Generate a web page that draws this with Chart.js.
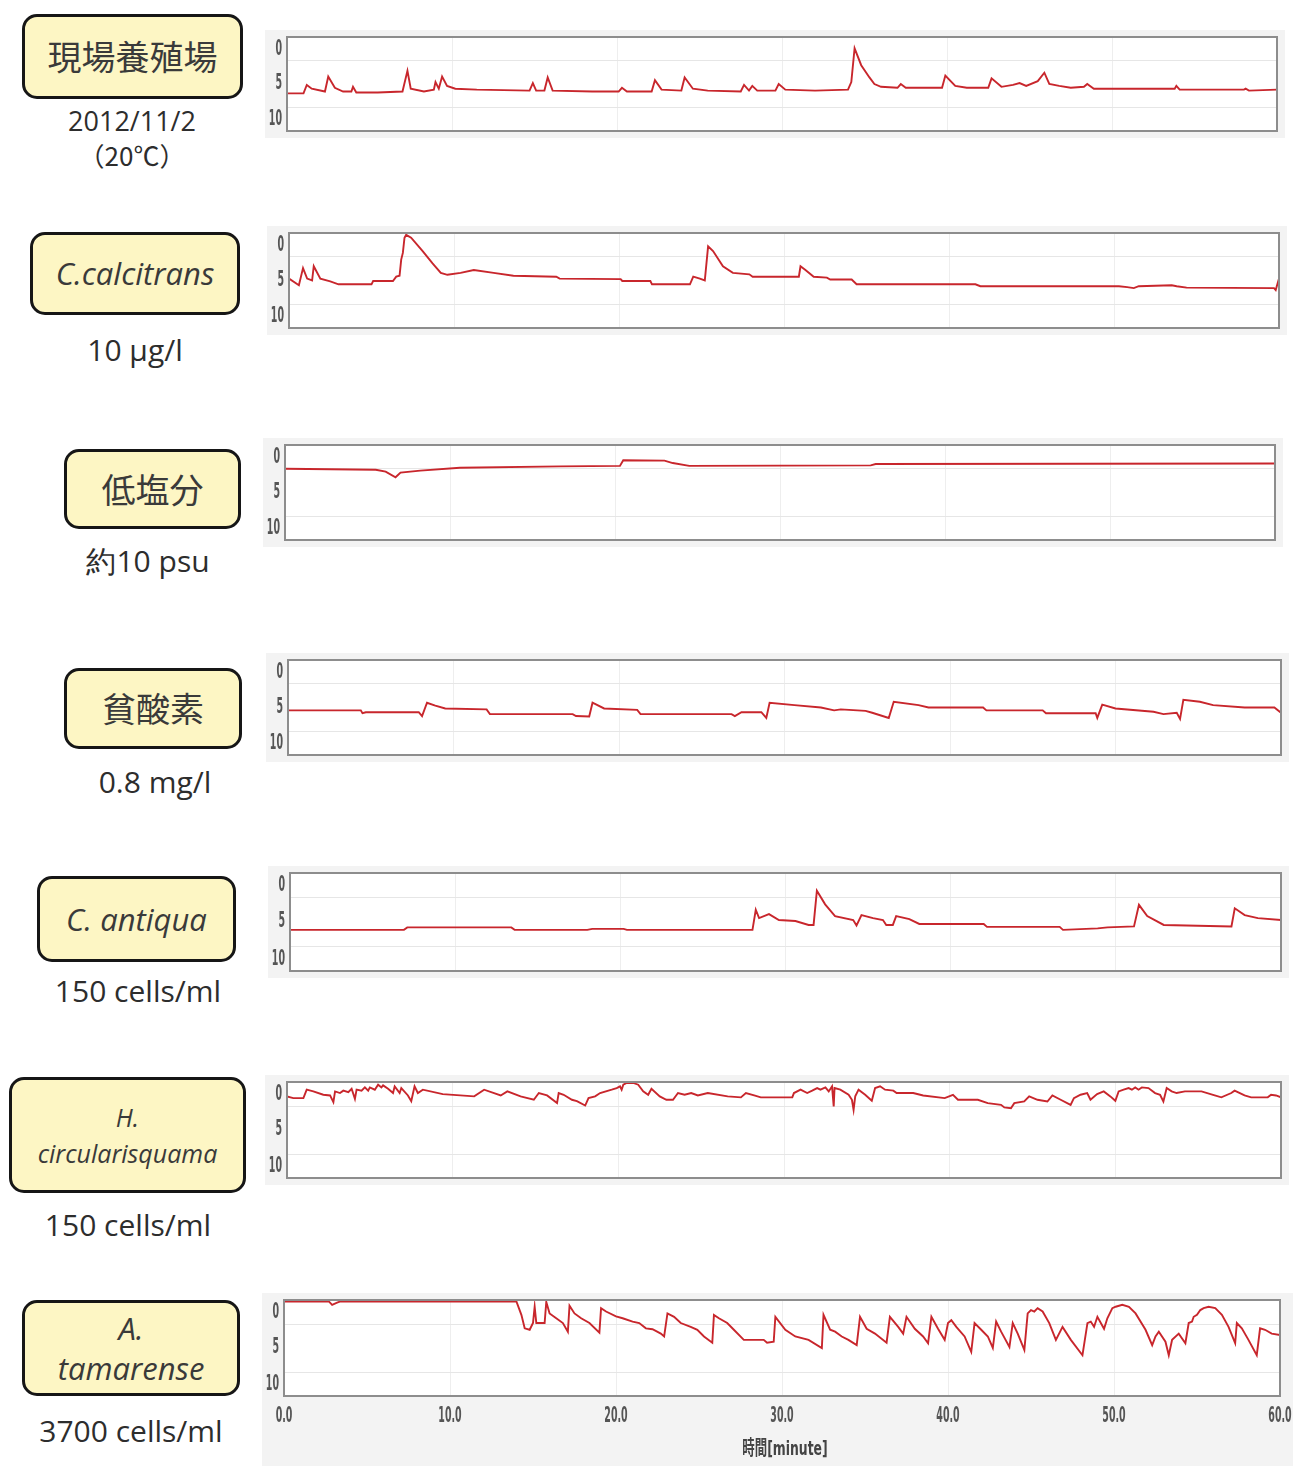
<!DOCTYPE html>
<html><head><meta charset="utf-8">
<script src="https://cdn.jsdelivr.net/npm/chart.js@4.4.1/dist/chart.umd.min.js"></script>
<style>
body{margin:0;background:#fff;width:1293px;height:1466px;position:relative;overflow:hidden;font-family:"Open Sans",sans-serif;}
.box{position:absolute;background:#fdf6c4;border:3px solid #161616;border-radius:15px;box-sizing:border-box;display:flex;align-items:center;justify-content:center;text-align:center;color:#3a3a3a;line-height:1.25;}
.jp{font-family:"Noto Sans CJK JP",sans-serif;font-size:34px;}
.it{font-style:italic;font-size:31px;}
.sub{position:absolute;text-align:center;color:#2d2d2d;font-size:30px;line-height:34px;width:240px;}
canvas{position:absolute;}
</style></head><body>
<div class="box jp" style="left:22px;top:14px;width:221px;height:85px;">現場養殖場</div>
<div class="sub" style="left:12px;top:104px;font-size:27px;">2012/11/2<br><span style="font-family:'Noto Sans CJK JP',sans-serif;font-size:26px;">（20℃）</span></div>
<div class="box it" style="left:30px;top:232px;width:210px;height:83px;">C.calcitrans</div>
<div class="sub" style="left:15px;top:333px;">10 μg/l</div>
<div class="box jp" style="left:64px;top:449px;width:177px;height:80px;">低塩分</div>
<div class="sub" style="left:28px;top:544px;">約10 psu</div>
<div class="box jp" style="left:64px;top:668px;width:178px;height:81px;">貧酸素</div>
<div class="sub" style="left:35px;top:765px;">0.8 mg/l</div>
<div class="box it" style="left:37px;top:876px;width:199px;height:86px;">C. antiqua</div>
<div class="sub" style="left:18px;top:974px;">150 cells/ml</div>
<div class="box it" style="left:9px;top:1077px;width:237px;height:116px;font-size:25px;line-height:1.45;">H.<br>circularisquama</div>
<div class="sub" style="left:8px;top:1208px;">150 cells/ml</div>
<div class="box it" style="left:22px;top:1300px;width:218px;height:96px;line-height:1.3;">A.<br>tamarense</div>
<div class="sub" style="left:11px;top:1414px;">3700 cells/ml</div>
<script>
// ---- data: [minute, value] ----
const fieldFarm = [[0,6.0],[1.0,6.0],[1.2,5.1],[1.5,5.5],[2.3,5.8],[2.5,4.2],[2.9,5.4],[3.4,5.8],[3.9,5.8],[4.0,5.3],[4.2,5.9],[5.5,5.9],[7.0,5.8],[7.3,3.6],[7.5,5.5],[8.3,5.8],[8.9,5.6],[9.0,4.8],[9.2,5.5],[9.4,4.2],[9.7,5.2],[10.2,5.5],[11.5,5.6],[14.7,5.7],[14.9,4.9],[15.1,5.7],[15.6,5.7],[15.8,4.3],[16.1,5.7],[18.5,5.8],[20.1,5.8],[20.3,5.4],[20.6,5.8],[22.1,5.8],[22.3,4.6],[22.7,5.6],[23.9,5.7],[24.1,4.3],[24.6,5.5],[25.5,5.7],[27.5,5.8],[27.7,5.1],[28.0,5.7],[28.2,5.2],[28.5,5.7],[29.6,5.7],[29.8,5.0],[30.2,5.6],[32.0,5.7],[34.0,5.6],[34.2,4.8],[34.4,1.2],[34.8,3.0],[35.3,4.3],[35.6,5.0],[36.0,5.3],[37.0,5.4],[37.2,5.0],[37.5,5.4],[39.7,5.4],[39.9,4.1],[40.5,5.2],[41.2,5.4],[42.5,5.4],[42.7,4.4],[43.3,5.3],[44.0,5.1],[44.4,4.9],[44.8,5.2],[45.5,4.7],[45.9,3.8],[46.2,5.0],[46.8,5.2],[47.5,5.4],[48.3,5.3],[48.5,5.0],[48.9,5.5],[53.8,5.5],[53.9,5.2],[54.1,5.6],[58.0,5.6],[58.1,5.5],[58.3,5.7],[60,5.6]];
const calcitrans = [[0,4.8],[0.6,5.5],[0.85,3.7],[1.1,4.8],[1.4,5.0],[1.5,3.5],[1.9,4.8],[2.5,5.1],[3.0,5.4],[5.0,5.4],[5.1,5.05],[6.3,5.05],[6.5,4.6],[6.7,4.5],[6.8,2.8],[6.9,2.1],[7.0,0.5],[7.1,0.2],[7.4,0.5],[8.1,1.9],[8.7,3.2],[9.2,4.2],[9.6,4.4],[10.4,4.2],[11.2,3.9],[12.4,4.2],[13.6,4.5],[16.2,4.6],[16.4,4.8],[20.1,4.85],[20.2,5.05],[21.9,5.05],[22.0,5.4],[24.3,5.4],[24.5,4.6],[24.9,4.8],[25.2,5.0],[25.4,1.4],[25.7,1.9],[26.3,3.5],[26.9,4.2],[27.9,4.35],[28.1,4.6],[30.9,4.6],[31.0,3.5],[31.3,3.9],[31.8,4.6],[32.6,4.7],[32.8,4.9],[34.1,4.9],[34.4,5.4],[41.6,5.4],[41.9,5.6],[50.3,5.6],[50.8,5.7],[51.2,5.8],[51.5,5.6],[53.5,5.5],[53.8,5.6],[54.4,5.75],[59.7,5.8],[59.8,6.0],[60,4.8]];
const lowSalinity = [[0,2.5],[5.5,2.6],[6.1,2.8],[6.7,3.4],[7.0,2.9],[8.2,2.7],[10.6,2.4],[16.7,2.25],[20.3,2.2],[20.5,1.6],[23.0,1.65],[23.5,1.9],[24.5,2.2],[35.5,2.15],[35.8,2.0],[60,1.95]];
const hypoxia = [[0,5.3],[4.4,5.3],[4.5,5.6],[4.7,5.5],[7.9,5.5],[8.1,5.9],[8.4,4.5],[8.9,4.8],[9.5,5.1],[12.0,5.2],[12.2,5.7],[17.2,5.7],[17.4,5.9],[18.2,5.95],[18.4,4.5],[19.1,5.1],[21.1,5.25],[21.3,5.7],[26.8,5.7],[27.0,5.9],[27.4,5.5],[28.6,5.5],[28.9,6.1],[29.1,4.5],[30.6,4.75],[32.2,5.0],[33.0,5.3],[33.4,5.2],[34.9,5.35],[35.3,5.55],[36.3,6.1],[36.6,4.4],[38.1,4.75],[38.7,5.0],[42.0,5.0],[42.2,5.3],[45.6,5.3],[45.8,5.6],[48.8,5.6],[48.9,6.1],[49.2,4.7],[50.0,5.1],[52.3,5.45],[52.9,5.7],[53.7,5.55],[53.9,6.2],[54.1,4.2],[55.1,4.4],[55.9,4.75],[57.8,5.0],[59.6,5.0],[60,5.55]];
const antiqua = [[0,5.8],[6.9,5.8],[7.1,5.55],[13.4,5.55],[13.6,5.8],[18.0,5.8],[18.3,5.7],[20.2,5.7],[20.4,5.8],[28.0,5.8],[28.2,3.75],[28.4,4.6],[29.0,4.2],[29.6,4.8],[30.6,4.9],[31.4,5.3],[31.7,5.3],[31.9,1.8],[32.4,3.2],[33.0,4.4],[34.1,4.8],[34.3,5.35],[34.6,4.3],[35.3,4.6],[35.9,4.8],[36.1,5.3],[36.5,5.3],[36.7,4.4],[37.5,4.7],[38.1,5.2],[42.0,5.2],[42.2,5.5],[46.6,5.5],[46.8,5.8],[48.9,5.65],[49.5,5.55],[51.1,5.45],[51.4,3.25],[51.9,4.4],[52.9,5.3],[57.0,5.45],[57.2,3.6],[57.8,4.3],[58.6,4.6],[60,4.8]];
const circularisquama = [[0,1.5],[0.38,1.68],[0.99,1.68],[1.19,0.8],[1.59,0.98],[2.19,1.33],[2.6,1.4],[2.8,2.1],[2.9,0.98],[3.2,1.15],[3.4,0.9],[3.7,1.05],[3.9,0.7],[4.1,1.75],[4.2,0.8],[4.5,0.9],[4.7,0.56],[4.9,0.9],[5.0,0.56],[5.3,0.8],[5.5,0.28],[5.7,0.56],[5.8,0.35],[6.1,0.7],[6.4,1.15],[6.5,0.45],[6.8,1.15],[6.9,0.63],[7.3,1.4],[7.5,2.0],[7.7,0.45],[7.9,1.15],[8.2,0.8],[9.4,1.26],[11.3,1.5],[11.9,0.8],[12.9,1.4],[13.3,0.98],[14.1,1.5],[14.9,1.85],[15.2,1.15],[15.7,1.4],[16.3,2.2],[16.4,1.15],[16.7,1.33],[17.2,1.85],[17.5,2.0],[18.0,2.45],[18.2,1.68],[18.6,1.5],[18.9,1.15],[19.6,0.8],[19.9,0.63],[20.1,0.45],[20.2,0.8],[20.3,0.28],[20.5,0.1],[20.9,0.1],[21.2,0.28],[21.5,0.98],[21.8,1.33],[22.0,0.7],[22.5,1.5],[22.9,1.85],[23.3,1.85],[23.6,1.15],[24.0,1.33],[24.4,1.15],[24.8,1.4],[25.4,1.15],[26.6,1.5],[27.4,1.6],[27.7,1.15],[28.2,1.4],[28.6,1.6],[29.2,1.6],[30.5,1.6],[30.6,1.15],[31.0,0.8],[31.4,1.15],[31.7,0.9],[32.0,0.63],[32.2,0.8],[32.5,0.56],[32.7,0.98],[32.9,0.45],[33.0,2.55],[33.05,0.63],[33.4,0.8],[33.9,1.33],[34.1,1.85],[34.2,2.9],[34.3,1.5],[34.5,0.8],[34.9,1.33],[35.3,1.96],[35.5,0.63],[35.8,0.45],[36.1,0.8],[36.6,0.9],[36.8,1.15],[37.8,1.15],[38.4,1.4],[39.7,1.68],[40.2,1.33],[40.5,1.85],[41.7,1.85],[42.3,2.2],[43.1,2.38],[43.3,2.65],[43.7,2.73],[43.9,2.2],[44.5,2.03],[44.8,1.5],[45.3,1.85],[45.9,2.03],[46.2,1.4],[46.7,1.85],[47.3,2.38],[47.5,1.68],[47.9,1.33],[48.3,1.15],[48.5,1.85],[48.9,1.26],[49.3,0.98],[49.7,1.5],[50.0,1.96],[50.2,0.98],[50.5,0.8],[50.8,0.63],[51.0,0.8],[51.2,0.56],[51.4,0.8],[51.6,0.56],[52.0,0.63],[52.4,1.15],[52.7,1.33],[52.9,2.03],[53.1,0.63],[53.4,0.98],[53.7,1.15],[54.2,0.98],[55.2,0.98],[56.0,1.4],[56.4,1.6],[57.0,1.15],[57.2,0.9],[57.8,1.4],[58.2,1.6],[59.2,1.6],[59.4,1.33],[59.7,1.4],[60,1.6]];
const tamarense = [[0,0.15],[2.2,0.15],[2.7,0.15],[2.9,0.5],[3.2,0.28],[3.4,0.15],[14.0,0.15],[14.3,1.55],[14.5,2.95],[14.8,3.1],[15.0,2.4],[15.1,0.7],[15.2,2.4],[15.7,2.4],[15.8,0.2],[16.0,1.4],[16.4,1.9],[16.8,2.4],[17.1,3.3],[17.2,0.6],[17.5,1.4],[17.9,1.9],[18.4,2.4],[19.0,3.4],[19.1,0.85],[19.4,1.2],[20.0,1.7],[20.4,1.9],[21.0,2.25],[21.4,2.4],[21.8,2.95],[22.2,3.05],[22.7,3.5],[22.9,3.8],[23.1,1.4],[23.5,1.75],[23.9,2.4],[24.5,2.8],[24.9,3.1],[25.3,3.8],[25.8,4.45],[25.9,1.55],[26.2,1.9],[26.7,2.4],[27.1,3.1],[27.7,4.15],[28.9,4.15],[29.1,4.45],[29.5,4.35],[29.6,1.75],[30.2,3.1],[30.8,3.8],[31.6,4.15],[32.4,5.0],[32.5,1.55],[32.9,3.1],[33.2,3.3],[33.6,3.8],[34.0,4.15],[34.5,4.7],[34.7,1.75],[35.1,3.0],[35.6,3.5],[36.3,4.45],[36.5,1.75],[37.0,2.8],[37.3,3.5],[37.5,1.75],[38.0,3.0],[38.5,3.8],[38.8,4.5],[39.0,1.75],[39.4,3.0],[39.8,4.15],[40.0,2.4],[40.2,2.1],[40.5,2.8],[41.0,3.8],[41.4,5.4],[41.6,2.4],[42.0,3.1],[42.4,3.8],[42.7,5.0],[42.9,2.25],[43.2,3.3],[43.7,4.9],[43.9,2.4],[44.2,3.5],[44.6,5.2],[44.8,1.4],[45.0,1.05],[45.2,1.2],[45.4,0.85],[45.7,1.2],[46.1,2.4],[46.5,4.15],[46.9,2.8],[47.4,4.15],[48.1,5.75],[48.4,2.4],[48.6,2.25],[48.8,2.8],[49.0,1.75],[49.4,3.0],[49.6,1.9],[49.9,0.85],[50.1,0.7],[50.5,0.5],[50.9,0.7],[51.3,1.4],[51.9,3.1],[52.3,4.7],[52.5,3.8],[52.7,3.3],[53.1,4.35],[53.3,5.75],[53.5,4.15],[53.9,3.5],[54.3,4.5],[54.5,2.4],[54.7,2.25],[54.8,1.75],[55.0,1.55],[55.2,1.05],[55.4,0.85],[55.7,0.7],[56.1,0.85],[56.5,1.55],[56.9,2.8],[57.3,4.5],[57.4,2.4],[57.7,2.95],[58.1,4.15],[58.6,5.75],[58.8,2.95],[59.1,3.1],[59.5,3.5],[60,3.65]];

const yTickLabels = ['0','5','10'];
const yTickValues = [0,5,10];
const xTickLabels = ['0.0','10.0','20.0','30.0','40.0','50.0','60.0'];
const xTitle = '時間[minute]';

// ---- layout (plot rectangles) ----
const panels = [
  {data: fieldFarm,        L:287, T:37,   R:1277, B:131},
  {data: calcitrans,       L:289, T:233,  R:1279, B:328},
  {data: lowSalinity,      L:285, T:445,  R:1275, B:540},
  {data: hypoxia,          L:288, T:660,  R:1281, B:755},
  {data: antiqua,          L:290, T:873,  R:1281, B:971},
  {data: circularisquama,  L:287, T:1082, R:1281, B:1178},
  {data: tamarense,        L:284, T:1300, R:1280, B:1396, xaxis:true}
];

function condText(ctx, text, x, y, align, baseline, sx, font, color){
  ctx.save(); ctx.font = font; ctx.fillStyle = color; ctx.textAlign = align; ctx.textBaseline = baseline;
  ctx.translate(x, y); ctx.scale(sx, 1); ctx.fillText(text, 0, 0); ctx.restore();
}

const framePlugin = {
  id: 'frame',
  beforeDraw(chart){
    const {ctx, chartArea:a, width, height} = chart;
    ctx.save();
    ctx.fillStyle = '#f3f3f3'; ctx.fillRect(0,0,width,height);
    ctx.fillStyle = '#ffffff'; ctx.fillRect(a.left, a.top, a.right-a.left, a.bottom-a.top);
    ctx.restore();
  },
  afterDraw(chart){
    const {ctx, chartArea:a} = chart;
    ctx.save();
    ctx.strokeStyle = '#8d8d8d'; ctx.lineWidth = 2;
    ctx.strokeRect(a.left, a.top, a.right-a.left, a.bottom-a.top);
    ctx.restore();
    const ys = chart.scales.y;
    const tickFont = 'bold 21px "DejaVu Sans", sans-serif';
    yTickValues.forEach((v,i) => {
      const py = ys.getPixelForValue(v);
      const base = v === 0 ? 'top' : (v === 10 ? 'bottom' : 'middle');
      const off = v === 0 ? 2 : (v === 10 ? -1 : 0);
      condText(ctx, yTickLabels[i], a.left - 5, py + off, 'right', base, 0.45, tickFont, '#555');
    });
    if (chart.options.showX){
      const xs = chart.scales.x;
      xs.ticks.forEach((t,i) => {
        const px = xs.getPixelForValue(t.value);
        condText(ctx, xTickLabels[i], px, a.bottom + 10, 'center', 'top', 0.45, tickFont, '#555');
      });
      condText(ctx, xTitle, (a.left + a.right)/2 + 3, a.bottom + 54, 'center', 'middle', 0.62, 'bold 20px "DejaVu Sans", "Noto Sans CJK JP", sans-serif', '#444');
    }
  }
};

panels.forEach(p => {
  const c = document.createElement('canvas');
  const bottomExtra = p.xaxis ? 70 : 7;
  const rightPad = p.xaxis ? 13 : 8;
  const w = (p.R - p.L) + 22 + rightPad;
  const h = (p.B - p.T) + 7 + bottomExtra;
  c.width = w; c.height = h;
  c.style.left = (p.L - 22) + 'px'; c.style.top = (p.T - 7) + 'px';
  c.style.width = w + 'px'; c.style.height = h + 'px';
  document.body.appendChild(c);
  new Chart(c.getContext('2d'), {
    type: 'line',
    data: { datasets: [{ data: p.data, borderColor: '#c8262c', borderWidth: 1.9, pointRadius: 0, tension: 0, fill: false }] },
    options: {
      showX: !!p.xaxis,
      responsive: false, animation: false, devicePixelRatio: 1,
      layout: { padding: { top: 7, right: rightPad, bottom: p.xaxis ? 0 : 7, left: 0 } },
      plugins: { legend: { display: false }, tooltip: { enabled: false } },
      scales: {
        x: { type: 'linear', min: 0, max: 60,
             ticks: { display: false, stepSize: 10 },
             grid: { drawTicks: false, color: ctx => (ctx.tick && ctx.tick.value > 0 && ctx.tick.value < 60) ? '#eeeeee' : 'rgba(0,0,0,0)' },
             border: { display: false },
             afterFit: s => { s.height = p.xaxis ? 70 : 0; } },
        y: { reverse: true, min: 0, max: 10,
             ticks: { display: false, stepSize: 2.5 },
             grid: { drawTicks: false, color: ctx => (ctx.tick && (ctx.tick.value === 2.5 || ctx.tick.value === 7.5)) ? '#e6e6e6' : 'rgba(0,0,0,0)' },
             border: { display: false },
             afterFit: s => { s.width = 22; } }
      }
    },
    plugins: [framePlugin]
  });
});
</script>
</body></html>
